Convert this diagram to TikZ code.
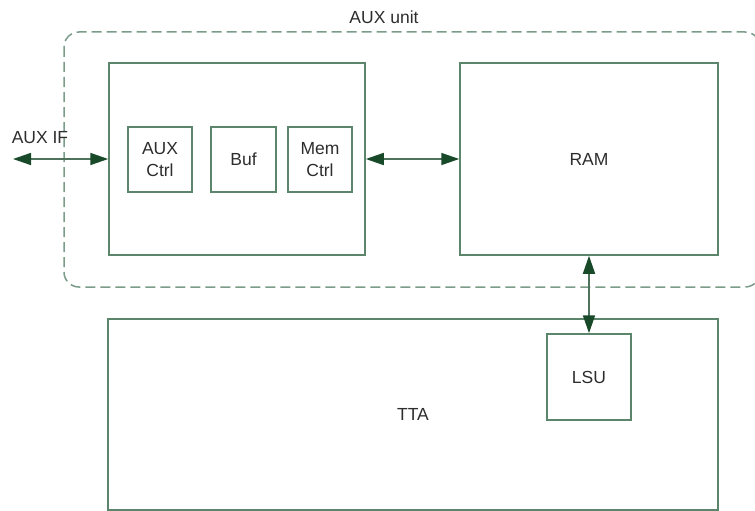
\documentclass[tikz,border=0pt]{standalone}
\usepackage{fontspec}
\setmainfont{Liberation Sans}
\usetikzlibrary{arrows.meta}

\definecolor{boxgreen}{RGB}{92,134,108}
\definecolor{arrowgreen}{RGB}{24,74,42}
\definecolor{dashgreen}{RGB}{122,156,136}
\definecolor{textgray}{RGB}{45,45,45}

\tikzset{
    block/.style={draw=boxgreen, line width=1.5pt, inner sep=0pt, align=center,
        text=textgray, font=\fontsize{17.5}{22}\selectfont},
    label/.style={text=textgray, inner sep=0pt, font=\fontsize{17.5}{22}\selectfont},
    link/.style={draw=boxgreen!85!black, line width=1.6pt, {Triangle[length=18pt, width=12pt, color=arrowgreen]}-{Triangle[length=18pt, width=12pt, color=arrowgreen]}}
}

\begin{document}
\begin{tikzpicture}[x=1pt, y=-1pt]
    \clip (0,0) rectangle (755,511);

    % the AUX unit frame
    \draw[dashgreen, line width=1.5pt, dash pattern=on 10pt off 5pt, rounded corners=15pt]
        (64,32) rectangle (760,287);
    \node[label] (auxunit) at (384,17) {AUX unit};

    % left block with its parts
    \node[block, minimum width=256pt, minimum height=192pt] (ctrlblock) at (237,159) {};
    \node[block, minimum width=64pt, minimum height=65pt] (auxctrl) at (160,159.5) {AUX\\Ctrl};
    \node[block, minimum width=65pt, minimum height=65pt] (buf) at (243.5,159.5) {Buf};
    \node[block, minimum width=64pt, minimum height=65pt] (memctrl) at (320,159.5) {Mem\\Ctrl};

    % memory
    \node[block, minimum width=258pt, minimum height=192pt] (ram) at (589,159) {RAM};

    % processor
    \node[block, minimum width=610pt, minimum height=191pt] (tta) at (413,414.5) {TTA};
    \node[block, minimum width=84pt, minimum height=86pt] (lsu) at (589,377) {LSU};

    % interface
    \coordinate (auxif) at (13,159);
    \node[label] (auxiflabel) at (40,138) {AUX IF};

    % connections
    \draw[link] (auxif) -- (ctrlblock.west);
    \draw[link] (ctrlblock.east) -- (ram.west);
    \draw[link] (ram.south) -- (lsu.north);
\end{tikzpicture}
\end{document}
